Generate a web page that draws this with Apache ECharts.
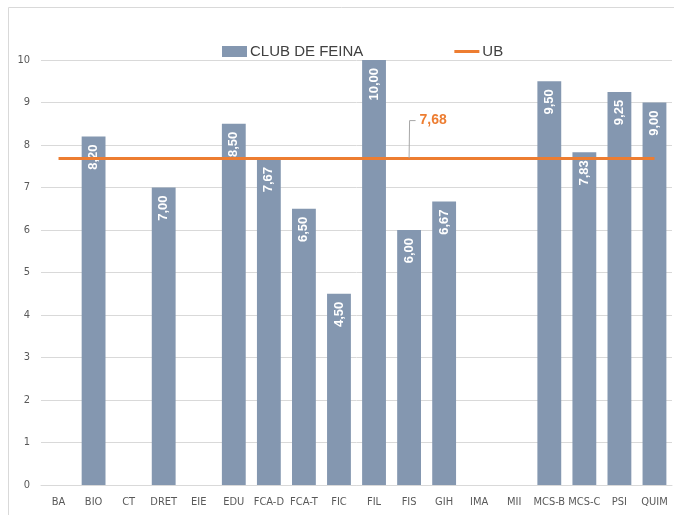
<!DOCTYPE html>
<html>
<head>
<meta charset="utf-8">
<script src="https://cdn.jsdelivr.net/npm/echarts@6/dist/echarts.min.js"></script>
<style>
  html, body { margin: 0; padding: 0; background: #fff; }
  #chart { width: 674px; height: 515px; }
</style>
</head>
<body>
<div id="chart"></div>
<script>
const categories = ['BA', 'BIO', 'CT', 'DRET', 'EIE', 'EDU', 'FCA-D', 'FCA-T', 'FIC', 'FIL', 'FIS', 'GIH', 'IMA', 'MII', 'MCS-B', 'MCS-C', 'PSI', 'QUIM']
const clubValues = [null, 8.20, null, 7.00, null, 8.50, 7.67, 6.50, 4.50, 10.00, 6.00, 6.67, null, null, 9.50, 7.83, 9.25, 9.00]
const ubValue = 7.68
const ubLabelIndex = 10
const yTicks = [0, 1, 2, 3, 4, 5, 6, 7, 8, 9, 10]

const fmt = (v) => v.toFixed(2).replace('.', ',')

const ubData = categories.map((c, i) => ({
  value: ubValue,
  symbolSize: i === ubLabelIndex ? 1 : 0,
  label: { show: i === ubLabelIndex }
}))

const narrow = '"Liberation Sans Narrow", "DejaVu Sans Condensed", Arial, sans-serif'

const chart = echarts.init(document.getElementById('chart'))
chart.setOption({
  animation: false,
  textStyle: { fontFamily: 'Liberation Sans, Arial, sans-serif' },
  graphic: [
    {
      type: 'rect',
      shape: { x: 8.5, y: 7.5, width: 900, height: 800 },
      style: { fill: 'none', stroke: '#d9d9d9', lineWidth: 1 },
      silent: true
    }
  ],
  legend: {
    left: 217,
    top: 39,
    itemGap: 91,
    itemWidth: 25,
    itemHeight: 11,
    textStyle: { fontSize: 15, color: '#404040', padding: [0, 0, 0, -2] },
    data: [
      { name: 'CLUB DE FEINA', icon: 'rect' },
      { name: 'UB', icon: 'path://M0,0L25,0L25,3L0,3Z' }
    ]
  },
  grid: {
    left: 41,
    right: 2,
    top: 60,
    bottom: 30
  },
  xAxis: {
    type: 'category',
    data: categories,
    axisTick: { show: false },
    axisLine: { lineStyle: { color: '#d9d9d9' } },
    axisLabel: { color: '#595959', fontSize: 11, margin: 12, interval: 0, fontFamily: narrow }
  },
  yAxis: {
    type: 'value',
    min: yTicks[0],
    max: yTicks[yTicks.length - 1],
    interval: 1,
    axisLine: { show: false },
    axisTick: { show: false },
    splitLine: { lineStyle: { color: '#d9d9d9' } },
    axisLabel: { color: '#595959', fontSize: 11, margin: 11, fontFamily: narrow }
  },
  series: [
    {
      name: 'CLUB DE FEINA',
      type: 'bar',
      data: clubValues,
      barWidth: '68%',
      itemStyle: { color: '#8497b0' },
      label: {
        show: true,
        position: 'insideTop',
        rotate: 90,
        align: 'right',
        verticalAlign: 'middle',
        distance: 8,
        color: '#fff',
        fontWeight: 'bold',
        fontSize: 13,
        formatter: (p) => fmt(p.value)
      }
    },
    {
      name: 'UB',
      type: 'line',
      data: ubData,
      symbol: 'circle',
      showSymbol: true,
      itemStyle: { color: '#ed7d31' },
      lineStyle: { color: '#ed7d31', width: 3 },
      z: 5,
      label: {
        position: 'right',
        distance: 6,
        padding: [0, 60, 0, 4],
        backgroundColor: 'rgba(255,255,255,0.01)',
        color: '#ed7d31',
        fontWeight: 'bold',
        fontSize: 14,
        formatter: (p) => fmt(p.value)
      },
      labelLayout: { dy: -38 },
      labelLine: { show: true, length2: 6, lineStyle: { color: '#a6a6a6', width: 1 } }
    }
  ]
})
</script>
</body>
</html>
